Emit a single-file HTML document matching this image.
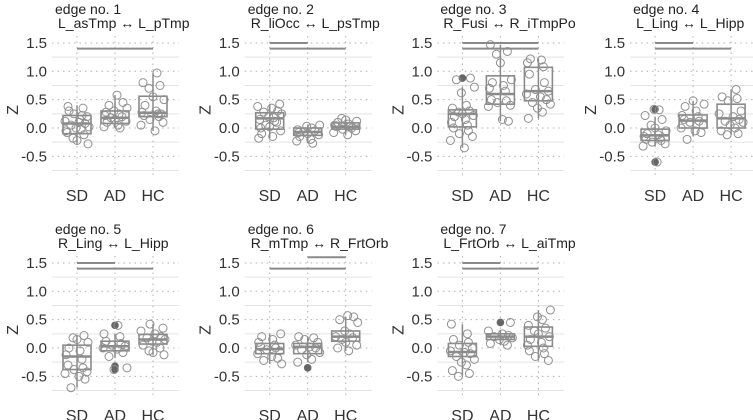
<!DOCTYPE html>
<html><head><meta charset="utf-8"><style>
body{margin:0;background:#fff}
svg{display:block;font-family:"Liberation Sans",sans-serif}
</style></head><body>
<svg id="c" width="753" height="420" viewBox="0 0 753 420"></svg>
<script>
const groups=["SD","AD","HC"];
const titles=["edge no. 1","edge no. 2","edge no. 3","edge no. 4","edge no. 5","edge no. 6","edge no. 7"];
const subtitles=["L_asTmp ↔ L_pTmp","R_liOcc ↔ L_psTmp","R_Fusi ↔ R_iTmpPo","L_Ling ↔ L_Hipp","R_Ling ↔ L_Hipp","R_mTmp ↔ R_FrtOrb","L_FrtOrb ↔ L_aiTmp"];
const yTicks=[1.5,1.0,0.5,0.0,-0.5];
const yTickLabels=["1.5","1.0","0.5","0.0","-0.5"];
const yMinor=[1.25,0.75,0.25,-0.25,-0.75];
// box stats: [lowWhisker,q1,median,q3,highWhisker]
const boxes=[
[[-0.28,-0.1,0.08,0.22,0.4],[0,0.08,0.18,0.3,0.58],[-0.05,0.2,0.27,0.56,0.97]],
[[-0.18,-0.02,0.17,0.27,0.42],[-0.27,-0.13,-0.07,0,0.05],[-0.12,-0.02,0.02,0.09,0.17]],
[[-0.35,0.02,0.25,0.32,0.72],[0.12,0.42,0.6,0.92,1.47],[0.17,0.48,0.65,1.07,1.22]],
[[-0.32,-0.22,-0.13,-0.02,0.2],[-0.15,0,0.13,0.23,0.48],[-0.12,0,0.17,0.42,0.68]],
[[-0.7,-0.38,-0.15,0.05,0.22],[-0.18,-0.05,0.03,0.12,0.25],[-0.12,0.07,0.15,0.24,0.42]],
[[-0.28,-0.1,-0.02,0.08,0.25],[-0.25,-0.1,0.02,0.08,0.2],[-0.05,0.12,0.2,0.3,0.55]],
[[-0.5,-0.15,-0.07,0.08,0.42],[0.05,0.15,0.2,0.25,0.32],[-0.22,0.03,0.2,0.37,0.67]]
];
const outliers=[
[[],[],[]],[[],[],[]],[[0.88],[],[]],[[0.33,-0.6],[],[]],[[],[0.4,-0.32,-0.38],[]],[[],[-0.35],[]],[[],[0.45],[]]
];
const points=[
[[0.38,0.35,0.25,0.2,0.12,0.1,0.08,0.05,0.02,0,-0.02,-0.08,-0.12,-0.18,-0.22,-0.28,0.3,0.15,-0.05,0.22],
 [0.58,0.45,0.4,0.35,0.3,0.25,0.22,0.2,0.18,0.15,0.12,0.1,0.05,0.02,0,0.28],
 [0.97,0.8,0.75,0.7,0.55,0.5,0.4,0.3,0.28,0.25,0.22,0.2,0.15,0.1,0.05,-0.05,0.25]],
[[0.42,0.38,0.35,0.3,0.28,0.25,0.2,0.18,0.15,0.1,0.05,0.02,-0.05,-0.1,-0.15,-0.18,0.12,0],
 [0.05,0.03,0,-0.03,-0.05,-0.07,-0.1,-0.12,-0.15,-0.2,-0.23,-0.27,-0.08],
 [0.17,0.14,0.12,0.1,0.07,0.05,0.03,0.02,0,-0.02,-0.05,-0.08,-0.12]],
[[0.88,0.85,0.72,0.62,0.4,0.35,0.3,0.28,0.25,0.22,0.2,0.15,0.1,0.05,0,-0.05,-0.1,-0.15,-0.22,-0.35],
 [1.47,1.35,1.3,1.15,0.85,0.8,0.75,0.7,0.65,0.5,0.48,0.45,0.4,0.38,0.15,0.12],
 [1.22,1.2,1.15,1.08,0.95,0.8,0.68,0.65,0.6,0.55,0.5,0.45,0.42,0.35,0.28,0.17]],
[[0.33,0.32,0.22,0.15,0.05,0,-0.05,-0.1,-0.12,-0.15,-0.18,-0.2,-0.22,-0.25,-0.28,-0.32,-0.6],
 [0.48,0.42,0.38,0.3,0.22,0.2,0.15,0.12,0.1,0.05,0,-0.05,-0.08,-0.2],
 [0.68,0.55,0.52,0.48,0.3,0.25,0.2,0.15,0.12,0.1,0.05,0,-0.05,-0.1,-0.12]],
[[0.22,0.18,0.15,0.1,0,-0.05,-0.12,-0.2,-0.3,-0.35,-0.38,-0.42,-0.45,-0.5,-0.55,-0.7],
 [0.4,0.25,0.2,0.12,0.08,0.05,0.03,0,-0.02,-0.08,-0.15,-0.35,-0.38],
 [0.42,0.35,0.3,0.25,0.2,0.18,0.15,0.12,0.1,0.05,0,-0.05,-0.08,-0.12]],
[[0.25,0.2,0.15,0.1,0.05,0.02,0,-0.03,-0.05,-0.1,-0.15,-0.18,-0.22,-0.28],
 [0.2,0.18,0.15,0.1,0.05,0.02,0,-0.03,-0.08,-0.12,-0.2,-0.25],
 [0.57,0.55,0.5,0.45,0.3,0.25,0.2,0.18,0.15,0.1,0.05,0,-0.05]],
[[0.42,0.25,0.15,0.1,0.05,0,-0.05,-0.08,-0.1,-0.15,-0.2,-0.25,-0.3,-0.4,-0.45,-0.5],
 [0.45,0.3,0.25,0.22,0.2,0.18,0.15,0.12,0.08,0.05],
 [0.67,0.55,0.5,0.4,0.35,0.3,0.25,0.2,0.15,0.1,0.05,0,-0.05,-0.1,-0.15,-0.22]]
];
// significance bars: [fromGroup,toGroup,level]
const sigBars=[
[[0,2,1.4]],
[[0,1,1.5],[0,2,1.4]],
[[0,2,1.5],[0,2,1.4]],
[[0,1,1.5],[0,2,1.4]],
[[0,1,1.5],[0,2,1.4]],
[[1,2,1.6],[0,2,1.4]],
[[0,1,1.5],[0,2,1.4]]
];
const jit=[-9,6,-3,10,-12,2,8,-6,12,-1,4,-10,7,-4,0,11,-8,3,-11,5];
const svg=document.getElementById('c');
const NS="http://www.w3.org/2000/svg";
function mk(t,a,p){const e=document.createElementNS(NS,t);for(const k in a)e.setAttribute(k,a[k]);(p||svg).appendChild(e);return e;}
const G="#8a8a8a";
for(let p=0;p<7;p++){
  const ox=(p%4)*192.7, oy=Math.floor(p/4)*220;
  const y=v=>oy+128-v*56.7;
  const x=i=>ox+77+i*38;
  const g=mk('g',{});
  
  
  const x0=ox+52,x1=ox+179;
  yMinor.forEach(v=>{const l=mk('line',{x1:x0,x2:x1,y1:y(v),y2:y(v),stroke:"#e3e3e3","stroke-width":1},g);});
  yTicks.forEach((v,i)=>{
    const l=mk('line',{x1:x0,x2:x1,y1:y(v),y2:y(v),stroke:"#b0b0b0","stroke-width":1,"stroke-dasharray":"1.5 4"},g);
    
    const t=mk('text',{x:ox+47,y:y(v)+5,"text-anchor":"end","font-size":15,fill:"#333"},g);t.textContent=yTickLabels[i];
    
  });
  groups.forEach((gr,i)=>{
    const l=mk('line',{x1:x(i),x2:x(i),y1:oy+36,y2:oy+178,stroke:"#b0b0b0","stroke-width":1,"stroke-dasharray":"1.5 4"},g);
    
    const t=mk('text',{x:x(i),y:oy+201,"text-anchor":"middle","font-size":16,fill:"#333"},g);t.textContent=gr;
    
  });
  const z=mk('text',{x:0,y:0,"font-size":16,fill:"#333","text-anchor":"middle",transform:`translate(${ox+18},${oy+110}) rotate(-90)`},g);z.textContent="Z";
  
  const t1=mk('text',{x:ox+55,y:oy+14,"font-size":14,fill:"#222"},g);t1.textContent=titles[p];
  
  const t2=mk('text',{x:ox+58,y:oy+28,"font-size":14,fill:"#222"},g);t2.textContent=subtitles[p];
  
  groups.forEach((gr,i)=>{
    const b=boxes[p][i],cx=x(i),w=14;
    const wl=mk('line',{x1:cx,x2:cx,y1:y(b[0]),y2:y(b[4]),stroke:G,"stroke-width":1.5},g);
    
    const r=mk('rect',{x:cx-w,y:y(b[3]),width:2*w,height:y(b[1])-y(b[3]),fill:"none",stroke:G,"stroke-width":1.6},g);
    
    const m=mk('line',{x1:cx-w,x2:cx+w,y1:y(b[2]),y2:y(b[2]),stroke:G,"stroke-width":2.5},g);
    
    outliers[p][i].forEach(v=>{const c=mk('circle',{cx:cx,cy:y(v),r:3.8,fill:"#666"},g);});
    points[p][i].forEach((v,k)=>{const c=mk('circle',{cx:cx+jit[(k+p*3+i*5)%jit.length],cy:y(v),r:4,fill:"none",stroke:"#8f8f8f","stroke-width":1},g);});
  });
  sigBars[p].forEach(s=>{const l=mk('line',{x1:x(s[0]),x2:x(s[1]),y1:y(s[2]),y2:y(s[2]),stroke:G,"stroke-width":2},g);});
}
</script>
</body></html>
